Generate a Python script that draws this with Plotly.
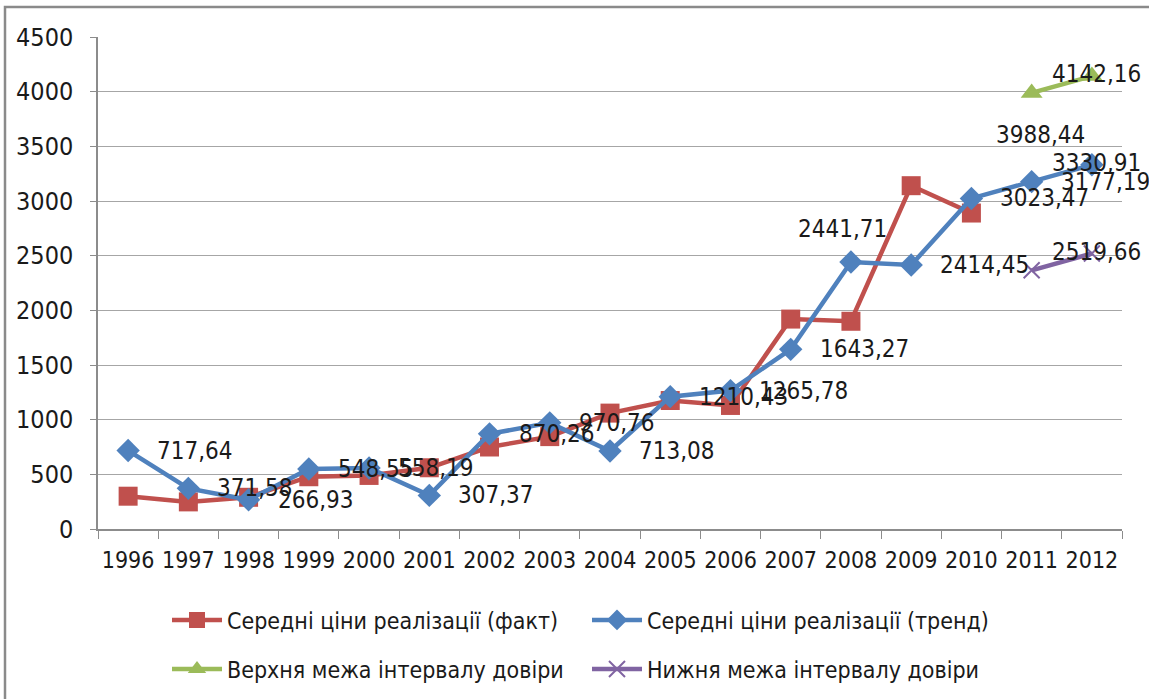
import plotly.graph_objects as go

years = [str(y) for y in range(1996, 2013)]
fact = [300, 248, 290, 478, 490, 560, 750, 845, 1060, 1175, 1130, 1920, 1900, 3140, 2890, None, None]
trend = [717.64, 371.58, 266.93, 548.55, 558.19, 307.37, 870.26, 970.76, 713.08,
         1210.43, 1265.78, 1643.27, 2441.71, 2414.45, 3023.47, 3177.19, 3330.91]
ci_years = ["2011", "2012"]
upper = [3988.44, 4142.16]
lower = [2365.94, 2519.66]

names = ["Середні ціни реалізації (факт)", "Середні ціни реалізації (тренд)",
         "Верхня межа інтервалу довіри", "Нижня межа інтервалу довіри"]
colors = ["#C0504D", "#4F81BD", "#9BBB59", "#8064A2"]

def fmt(v):
    return f"{v:.2f}".replace(".", ",")

FONT = "DejaVu Sans Condensed, Liberation Sans Narrow, sans-serif"
TXT = "#1a1a1a"

fig = go.Figure()
fig.add_trace(go.Scatter(
    x=years, y=fact, name=names[0], mode="lines+markers",
    line=dict(color=colors[0], width=4.5),
    marker=dict(symbol="square", size=19, color=colors[0]),
    legend="legend"))
fig.add_trace(go.Scatter(
    x=years, y=trend, name=names[1], mode="lines+markers",
    line=dict(color=colors[1], width=4.5),
    marker=dict(symbol="diamond", size=18, color=colors[1]),
    legend="legend"))
fig.add_trace(go.Scatter(
    x=ci_years, y=upper, name=names[2], mode="lines+markers",
    line=dict(color=colors[2], width=4.5),
    marker=dict(symbol="triangle-up", size=19, color=colors[2]),
    legend="legend2"))
fig.add_trace(go.Scatter(
    x=ci_years, y=lower, name=names[3], mode="lines+markers",
    line=dict(color=colors[3], width=4.5),
    marker=dict(symbol="x-thin", size=16, color=colors[3],
                line=dict(color=colors[3], width=2)),
    legend="legend2"))

# data labels (x given as category index; offsets in pixels)
annotations = []
LBL = dict(size=24, family=FONT, color=TXT)
for i, (yr, v) in enumerate(zip(years, trend)):
    a = dict(x=i, y=v, text=fmt(v), showarrow=False, font=LBL,
             xanchor="left", yanchor="middle", xshift=27, yshift=0)
    if yr == "2008":
        a.update(xanchor="center", xshift=-8, yshift=33)
    elif yr == "2012":
        a.update(xanchor="center", xshift=5, yshift=2)
    annotations.append(a)
for yr, v, xs, ys in zip(ci_years, upper, [9, 5], [-42, 2]):
    annotations.append(dict(x=years.index(yr), y=v, text=fmt(v), showarrow=False, font=LBL,
                            xanchor="center", yanchor="middle", xshift=xs, yshift=ys))
annotations.append(dict(x=years.index(ci_years[1]), y=lower[1], text=fmt(lower[1]),
                        showarrow=False, font=LBL, xanchor="center", yanchor="middle",
                        xshift=5, yshift=2))

W, H = 1149, 699
L, R, T, B = 98, 27, 37, 170
pw, ph = W - L - R, H - T - B

def px(xp):
    return (xp - L) / pw

def py(yp):
    return (H - B - yp) / ph

legend_common = dict(orientation="h", entrywidth=355, entrywidthmode="pixels",
                     font=dict(size=23, family=FONT, color=TXT),
                     bgcolor="rgba(0,0,0,0)", xanchor="left", yanchor="middle",
                     itemwidth=50)

fig.update_layout(
    width=W, height=H,
    margin=dict(l=L, r=R, t=T, b=B, autoexpand=False),
    paper_bgcolor="white", plot_bgcolor="white",
    font=dict(family=FONT, size=22, color=TXT),
    annotations=annotations,
    xaxis=dict(type="category", categoryorder="array", categoryarray=years,
               range=[-0.5, len(years) - 0.5],
               showgrid=False, showline=True, linecolor="#8c8c8c",
               linewidth=1.5, ticks="outside", tickson="boundaries", ticklen=8,
               tickcolor="#8c8c8c", tickfont=dict(size=23, family=FONT, color=TXT),
               tickangle=0, ticklabelstandoff=10, automargin=False),
    yaxis=dict(range=[0, 4500], dtick=500, showgrid=True, gridcolor="#a6a6a6",
               gridwidth=1.2, showline=True, linecolor="#8c8c8c", linewidth=1.5,
               ticks="outside", ticklen=6, tickcolor="#8c8c8c", zeroline=False,
               tickfont=dict(size=25, family=FONT, color=TXT), ticklabelstandoff=12,
               automargin=False),
    legend=dict(x=px(167), y=py(620), **legend_common),
    legend2=dict(x=px(167), y=py(669), **legend_common),
    shapes=[dict(type="rect", xref="paper", yref="paper",
                 x0=px(5), x1=px(W + 20), y0=py(7), y1=py(H + 20),
                 line=dict(color="#8a8a8a", width=2.5), layer="above")],
)

fig.write_html("out.html", config={"displayModeBar": False},
               post_script="document.body.style.margin='0';document.body.style.overflow='hidden';")
